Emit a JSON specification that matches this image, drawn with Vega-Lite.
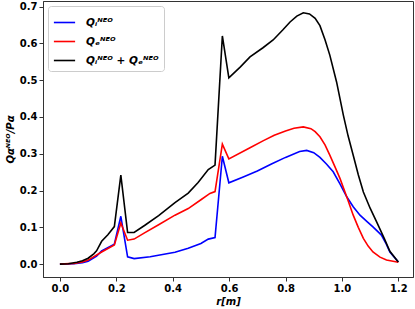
{
  "$schema": "https://vega.github.io/schema/vega-lite/v6.json",
  "width": 370,
  "height": 276,
  "autosize": "none",
  "padding": {"left": 43, "top": 1, "right": 2, "bottom": 32},
  "config": {
    "font": "DejaVu Sans",
    "view": {"stroke": "#333", "strokeWidth": 1},
    "axis": {"grid": false, "labelFont": "DejaVu Sans", "labelFontWeight": "bold", "labelFontSize": 10, "labelColor": "black", "tickColor": "#333", "domainColor": "#333", "tickSize": 4, "labelPadding": 2, "titleFont": "DejaVu Sans", "titleFontWeight": "bold", "titleFontSize": 10, "titleColor": "black"},
    "legend": {"labelFont": "DejaVu Sans", "labelFontWeight": "bold", "labelFontStyle": "italic", "labelFontSize": 11, "labelColor": "black"}
  },
  "data": {
    "values": [
      {"r": 0, "v": 0, "s": "Qi"},
      {"r": 0.05, "v": 0.001, "s": "Qi"},
      {"r": 0.08, "v": 0.004, "s": "Qi"},
      {"r": 0.1, "v": 0.008, "s": "Qi"},
      {"r": 0.13, "v": 0.022, "s": "Qi"},
      {"r": 0.148, "v": 0.036, "s": "Qi"},
      {"r": 0.193, "v": 0.054, "s": "Qi"},
      {"r": 0.216, "v": 0.13, "s": "Qi"},
      {"r": 0.24, "v": 0.02, "s": "Qi"},
      {"r": 0.263, "v": 0.015, "s": "Qi"},
      {"r": 0.32, "v": 0.02, "s": "Qi"},
      {"r": 0.408, "v": 0.032, "s": "Qi"},
      {"r": 0.455, "v": 0.043, "s": "Qi"},
      {"r": 0.5, "v": 0.056, "s": "Qi"},
      {"r": 0.526, "v": 0.068, "s": "Qi"},
      {"r": 0.55, "v": 0.072, "s": "Qi"},
      {"r": 0.576, "v": 0.293, "s": "Qi"},
      {"r": 0.599, "v": 0.221, "s": "Qi"},
      {"r": 0.65, "v": 0.237, "s": "Qi"},
      {"r": 0.7, "v": 0.253, "s": "Qi"},
      {"r": 0.75, "v": 0.272, "s": "Qi"},
      {"r": 0.8, "v": 0.29, "s": "Qi"},
      {"r": 0.85, "v": 0.306, "s": "Qi"},
      {"r": 0.875, "v": 0.309, "s": "Qi"},
      {"r": 0.9, "v": 0.303, "s": "Qi"},
      {"r": 0.922, "v": 0.29, "s": "Qi"},
      {"r": 0.945, "v": 0.272, "s": "Qi"},
      {"r": 0.969, "v": 0.251, "s": "Qi"},
      {"r": 0.993, "v": 0.218, "s": "Qi"},
      {"r": 1.017, "v": 0.183, "s": "Qi"},
      {"r": 1.04, "v": 0.156, "s": "Qi"},
      {"r": 1.064, "v": 0.133, "s": "Qi"},
      {"r": 1.09, "v": 0.115, "s": "Qi"},
      {"r": 1.11, "v": 0.101, "s": "Qi"},
      {"r": 1.14, "v": 0.079, "s": "Qi"},
      {"r": 1.155, "v": 0.058, "s": "Qi"},
      {"r": 1.17, "v": 0.033, "s": "Qi"},
      {"r": 1.2, "v": 0.006, "s": "Qi"},

      {"r": 0, "v": 0, "s": "Qe"},
      {"r": 0.05, "v": 0.002, "s": "Qe"},
      {"r": 0.08, "v": 0.006, "s": "Qe"},
      {"r": 0.1, "v": 0.011, "s": "Qe"},
      {"r": 0.148, "v": 0.033, "s": "Qe"},
      {"r": 0.193, "v": 0.052, "s": "Qe"},
      {"r": 0.216, "v": 0.112, "s": "Qe"},
      {"r": 0.24, "v": 0.065, "s": "Qe"},
      {"r": 0.263, "v": 0.068, "s": "Qe"},
      {"r": 0.3, "v": 0.085, "s": "Qe"},
      {"r": 0.35, "v": 0.107, "s": "Qe"},
      {"r": 0.408, "v": 0.133, "s": "Qe"},
      {"r": 0.455, "v": 0.151, "s": "Qe"},
      {"r": 0.5, "v": 0.175, "s": "Qe"},
      {"r": 0.532, "v": 0.192, "s": "Qe"},
      {"r": 0.55, "v": 0.197, "s": "Qe"},
      {"r": 0.576, "v": 0.326, "s": "Qe"},
      {"r": 0.599, "v": 0.286, "s": "Qe"},
      {"r": 0.674, "v": 0.316, "s": "Qe"},
      {"r": 0.72, "v": 0.335, "s": "Qe"},
      {"r": 0.76, "v": 0.35, "s": "Qe"},
      {"r": 0.8, "v": 0.362, "s": "Qe"},
      {"r": 0.83, "v": 0.369, "s": "Qe"},
      {"r": 0.863, "v": 0.373, "s": "Qe"},
      {"r": 0.89, "v": 0.368, "s": "Qe"},
      {"r": 0.905, "v": 0.36, "s": "Qe"},
      {"r": 0.922, "v": 0.346, "s": "Qe"},
      {"r": 0.94, "v": 0.324, "s": "Qe"},
      {"r": 0.957, "v": 0.296, "s": "Qe"},
      {"r": 0.975, "v": 0.265, "s": "Qe"},
      {"r": 0.993, "v": 0.233, "s": "Qe"},
      {"r": 1.017, "v": 0.183, "s": "Qe"},
      {"r": 1.04, "v": 0.133, "s": "Qe"},
      {"r": 1.058, "v": 0.1, "s": "Qe"},
      {"r": 1.076, "v": 0.07, "s": "Qe"},
      {"r": 1.093, "v": 0.049, "s": "Qe"},
      {"r": 1.11, "v": 0.033, "s": "Qe"},
      {"r": 1.135, "v": 0.019, "s": "Qe"},
      {"r": 1.158, "v": 0.011, "s": "Qe"},
      {"r": 1.2, "v": 0.005, "s": "Qe"},

      {"r": 0, "v": 0, "s": "Qsum"},
      {"r": 0.03, "v": 0.001, "s": "Qsum"},
      {"r": 0.06, "v": 0.005, "s": "Qsum"},
      {"r": 0.08, "v": 0.009, "s": "Qsum"},
      {"r": 0.1, "v": 0.016, "s": "Qsum"},
      {"r": 0.12, "v": 0.028, "s": "Qsum"},
      {"r": 0.13, "v": 0.036, "s": "Qsum"},
      {"r": 0.148, "v": 0.062, "s": "Qsum"},
      {"r": 0.17, "v": 0.08, "s": "Qsum"},
      {"r": 0.193, "v": 0.102, "s": "Qsum"},
      {"r": 0.216, "v": 0.242, "s": "Qsum"},
      {"r": 0.24, "v": 0.086, "s": "Qsum"},
      {"r": 0.263, "v": 0.086, "s": "Qsum"},
      {"r": 0.3, "v": 0.105, "s": "Qsum"},
      {"r": 0.35, "v": 0.132, "s": "Qsum"},
      {"r": 0.408, "v": 0.167, "s": "Qsum"},
      {"r": 0.455, "v": 0.193, "s": "Qsum"},
      {"r": 0.49, "v": 0.222, "s": "Qsum"},
      {"r": 0.526, "v": 0.257, "s": "Qsum"},
      {"r": 0.55, "v": 0.269, "s": "Qsum"},
      {"r": 0.576, "v": 0.62, "s": "Qsum"},
      {"r": 0.599, "v": 0.506, "s": "Qsum"},
      {"r": 0.64, "v": 0.536, "s": "Qsum"},
      {"r": 0.674, "v": 0.563, "s": "Qsum"},
      {"r": 0.72, "v": 0.588, "s": "Qsum"},
      {"r": 0.756, "v": 0.609, "s": "Qsum"},
      {"r": 0.79, "v": 0.636, "s": "Qsum"},
      {"r": 0.816, "v": 0.658, "s": "Qsum"},
      {"r": 0.84, "v": 0.674, "s": "Qsum"},
      {"r": 0.863, "v": 0.683, "s": "Qsum"},
      {"r": 0.885, "v": 0.68, "s": "Qsum"},
      {"r": 0.905, "v": 0.668, "s": "Qsum"},
      {"r": 0.922, "v": 0.648, "s": "Qsum"},
      {"r": 0.94, "v": 0.61, "s": "Qsum"},
      {"r": 0.957, "v": 0.568, "s": "Qsum"},
      {"r": 0.981, "v": 0.495, "s": "Qsum"},
      {"r": 1.005, "v": 0.405, "s": "Qsum"},
      {"r": 1.022, "v": 0.348, "s": "Qsum"},
      {"r": 1.04, "v": 0.296, "s": "Qsum"},
      {"r": 1.058, "v": 0.243, "s": "Qsum"},
      {"r": 1.076, "v": 0.196, "s": "Qsum"},
      {"r": 1.1, "v": 0.152, "s": "Qsum"},
      {"r": 1.123, "v": 0.115, "s": "Qsum"},
      {"r": 1.15, "v": 0.07, "s": "Qsum"},
      {"r": 1.17, "v": 0.035, "s": "Qsum"},
      {"r": 1.2, "v": 0.006, "s": "Qsum"}
    ]
  },
  "mark": {"type": "line", "strokeWidth": 1.6, "clip": true},
  "encoding": {
    "x": {
      "field": "r", "type": "quantitative",
      "scale": {"domain": [-0.06, 1.252], "nice": false, "zero": false},
      "axis": {"values": [0, 0.2, 0.4, 0.6, 0.8, 1.0, 1.2], "format": ".1f", "title": "r[m]", "titleFontStyle": "italic", "titlePadding": 3}
    },
    "y": {
      "field": "v", "type": "quantitative",
      "scale": {"domain": [-0.035, 0.715], "nice": false, "zero": false},
      "axis": {"values": [0, 0.1, 0.2, 0.3, 0.4, 0.5, 0.6, 0.7], "format": ".1f", "title": "Qαᴺᴱᴼ/Pα", "titleFontStyle": "italic", "titlePadding": 4}
    },
    "color": {
      "field": "s", "type": "nominal",
      "scale": {"domain": ["Qi", "Qe", "Qsum"], "range": ["#0000ff", "#ff0000", "#000000"]},
      "legend": {
        "title": null,
        "orient": "top-left",
        "offset": 5,
        "padding": 5,
        "rowPadding": 2,
        "strokeColor": "#cccccc",
        "fillColor": "white",
        "cornerRadius": 3,
        "symbolType": "stroke",
        "symbolSize": 450,
        "symbolStrokeWidth": 1.6,
        "labelOffset": 10,
        "labelFontSize": 10.5,
        "labelExpr": "datum.value == 'Qi' ? 'Qᵢᴺᴱᴼ' : datum.value == 'Qe' ? 'Qₑᴺᴱᴼ' : 'Qᵢᴺᴱᴼ + Qₑᴺᴱᴼ'"
      }
    }
  }
}
